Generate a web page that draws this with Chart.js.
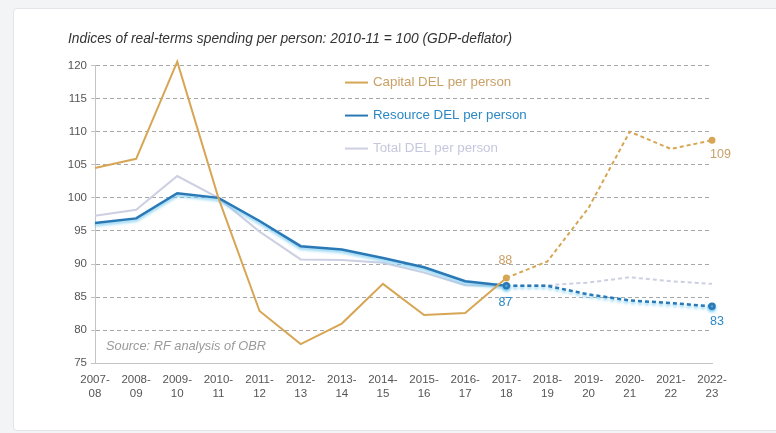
<!DOCTYPE html>
<html>
<head>
<meta charset="utf-8">
<script src="https://cdn.jsdelivr.net/npm/chart.js@4.4.1/dist/chart.umd.min.js"></script>
<style>
  body { margin: 0; background: #f3f4f6; width: 776px; height: 433px; overflow: hidden; }
  .card {
    position: absolute; left: 13px; top: 8px; width: 770px; height: 421px;
    background: #fff; border: 1px solid #e2e4e8; border-radius: 4px;
  }
  canvas { position: absolute; left: 0; top: 0; }
</style>
</head>
<body>
<div class="card">
  <canvas id="chart" width="762" height="421"></canvas>
</div>
<script>
// years on the x axis (two-line labels)
const years = [
  ["2007-", "08"], ["2008-", "09"], ["2009-", "10"], ["2010-", "11"],
  ["2011-", "12"], ["2012-", "13"], ["2013-", "14"], ["2014-", "15"],
  ["2015-", "16"], ["2016-", "17"], ["2017-", "18"], ["2018-", "19"],
  ["2019-", "20"], ["2020-", "21"], ["2021-", "22"], ["2022-", "23"],
];

// index values, 2010-11 = 100
const capitalDEL = [104.5, 105.9, 120.6, 100, 82.9, 77.9, 81.0, 87.0, 82.3, 82.6, 87.9, 90.4, 98.5, 110.0, 107.4, 108.7];
const resourceDEL = [96.2, 96.9, 100.7, 100, 96.5, 92.7, 92.2, 90.9, 89.5, 87.4, 86.7, 86.7, 85.4, 84.5, 84.1, 83.6];
const totalDEL = [97.3, 98.2, 103.3, 100, 94.9, 90.7, 90.6, 90.2, 88.7, 86.8, 86.7, 86.8, 87.2, 88.0, 87.4, 87.0];

// index where the forecast (dashed) part begins
const forecastFrom = 10;

// value labels shown on the chart: [dataset, index, text]
const valueLabels = [
  [0, 10, "88"],
  [1, 10, "87"],
  [0, 15, "109"],
  [1, 15, "83"],
];

const GOLD = "#d7a655";
const BLUE = "#2a78b5";
const LAVENDER = "#cdcfe2";
const FONT = "'Liberation Sans', Arial, sans-serif";

const dashAfter = (ctx) => (ctx.p0DataIndex >= forecastFrom ? [4, 3] : undefined);
const markerAt = (r) => (ctx) => (ctx.dataIndex === forecastFrom || ctx.dataIndex === years.length - 1 ? r : 0);

// legend, source and value labels drawn inside the plot
const overlay = {
  id: "overlay",
  beforeDatasetDraw(chart, args) {
    if (args.index === 1) {
      const c = chart.ctx;
      c.save();
      c.shadowColor = "rgba(110,200,240,0.9)";
      c.shadowBlur = 3;
      c.shadowOffsetY = 2;
    }
  },
  afterDatasetDraw(chart, args) {
    if (args.index === 1) chart.ctx.restore();
  },
  afterDatasetsDraw(chart) {
    const c = chart.ctx;
    const a = chart.chartArea;
    const x = chart.scales.x;
    const y = chart.scales.y;
    c.save();

    // legend
    const items = [
      ["Capital DEL per person", GOLD, "#c9a066"],
      ["Resource DEL per person", BLUE, "#2c88c4"],
      ["Total DEL per person", LAVENDER, "#c5c8dd"],
    ];
    c.font = "13.3px " + FONT;
    c.textBaseline = "middle";
    items.forEach((it, i) => {
      const ly = a.top + 17 + i * 33;
      c.strokeStyle = it[1];
      c.lineWidth = 2;
      c.beginPath();
      c.moveTo(a.left + 250, ly);
      c.lineTo(a.left + 273, ly);
      c.stroke();
      c.fillStyle = it[2];
      c.textAlign = "left";
      c.fillText(it[0], a.left + 278, ly);
    });

    // source
    c.font = "italic 12.8px " + FONT;
    c.fillStyle = "#9a9a9a";
    c.fillText("Source: RF analysis of OBR", a.left + 11, a.bottom - 17);

    // value labels
    c.font = "12.5px " + FONT;
    valueLabels.forEach(([ds, idx, txt]) => {
      const vals = chart.data.datasets[ds].data;
      const px = x.getPixelForValue(idx);
      const py = y.getPixelForValue(vals[idx]);
      c.fillStyle = ds === 0 ? "#c9a066" : "#2c88c4";
      if (idx === forecastFrom) {
        c.textAlign = "center";
        c.fillText(txt, px - 1, ds === 0 ? py - 17 : py + 17);
      } else {
        c.textAlign = "left";
        c.fillText(txt, px - 2, ds === 0 ? py + 14 : py + 15);
      }
    });
    c.restore();
  },
};

new Chart(document.getElementById("chart"), {
  type: "line",
  data: {
    labels: years,
    datasets: [
      {
        label: "Capital DEL per person",
        data: capitalDEL,
        borderColor: GOLD,
        backgroundColor: GOLD,
        borderWidth: 2,
        pointRadius: markerAt(2.5),
        segment: { borderDash: dashAfter },
        tension: 0,
        clip: false,
      },
      {
        label: "Resource DEL per person",
        data: resourceDEL,
        borderColor: BLUE,
        backgroundColor: BLUE,
        borderWidth: 2.5,
        pointRadius: markerAt(2.5),
        segment: { borderDash: dashAfter },
        tension: 0,
      },
      {
        label: "Total DEL per person",
        data: totalDEL,
        borderColor: LAVENDER,
        backgroundColor: LAVENDER,
        borderWidth: 2,
        pointRadius: 0,
        segment: { borderDash: dashAfter },
        tension: 0,
      },
    ],
  },
  plugins: [overlay],
  options: {
    responsive: false,
    animation: false,
    layout: { padding: { left: 54, right: 64, top: 0, bottom: 24 } },
    plugins: {
      legend: { display: false },
      tooltip: { enabled: false },
      title: {
        display: true,
        text: "Indices of real-terms spending per person: 2010-11 = 100 (GDP-deflator)",
        align: "start",
        color: "#333",
        font: { family: FONT, size: 13.8, style: "italic", weight: "normal" },
        padding: { top: 22, bottom: 18 },
      },
    },
    scales: {
      x: {
        offset: false,
        grid: { display: false, drawTicks: true, tickLength: 4, color: "#bbb" },
        border: { display: true, color: "#c4c4c4", width: 1 },
        ticks: { color: "#555", font: { family: FONT, size: 11.5, lineHeight: 1.25 }, maxRotation: 0, autoSkip: false, padding: 5 },
      },
      y: {
        min: 75,
        max: 120,
        afterFit: (s) => { s.width = 27; },
        ticks: { stepSize: 5, color: "#555", font: { family: FONT, size: 11.5 }, padding: 4 },
        grid: {
          color: (ctx) => (ctx.tick && ctx.tick.value === 75 ? "rgba(0,0,0,0)" : "#a8a8a8"),
          tickLength: 4,
          tickColor: "#c4c4c4",
        },
        border: { display: true, color: "#c4c4c4", dash: [4, 3], width: 1 },
      },
    },
  },
});
</script>
</body>
</html>
